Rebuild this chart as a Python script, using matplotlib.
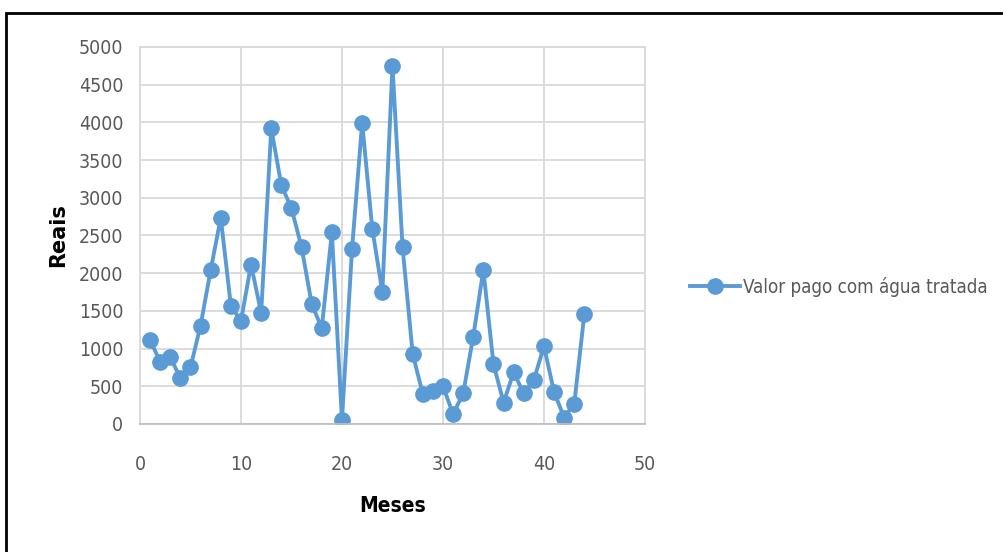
import matplotlib
matplotlib.use("Agg")
import matplotlib.pyplot as plt
from matplotlib.patches import Rectangle

plt.rcParams["font.family"] = ["DejaVu Sans"]
plt.rcParams["font.stretch"] = "condensed"

meses = list(range(1, 45))
valores = [1115, 825, 885, 610, 750, 1305, 2040, 2735, 1570, 1365,
           2115, 1470, 3920, 3165, 2860, 2345, 1595, 1270, 2540, 55,
           2325, 3995, 2590, 1750, 4750, 2345, 930, 400, 440, 505,
           130, 405, 1160, 2045, 795, 285, 685, 405, 585, 1030,
           425, 85, 270, 1460]

AZUL = "#5B9BD5"; CINZA = "#595959"; GRADE = "#D9D9D9"

fig = plt.figure(figsize=(10.04, 5.52), dpi=100)
ax = fig.add_axes([0.1394, 0.2319, 0.5030, 0.6830])

ax.plot(meses, valores, color=AZUL, lw=2.8, marker="o", ms=11,
        label="Valor pago com água tratada")
ax.set_xlim(0, 50); ax.set_ylim(0, 5000)
ax.set_xticks(range(0, 51, 10)); ax.set_yticks(range(0, 5001, 500))
ax.grid(color=GRADE, lw=1.3); ax.set_axisbelow(True)
for s in ax.spines.values():
    s.set_color(GRADE); s.set_linewidth(1.3)
ax.spines["bottom"].set_color("#BFBFBF")
ax.tick_params(length=0, labelsize=14, labelcolor=CINZA)
ax.tick_params(axis="y", pad=12)
ax.tick_params(axis="x", pad=22)

ax.set_xlabel("Meses", fontsize=15, fontweight="bold", labelpad=16)
ax.set_ylabel("Reais", fontsize=15, fontweight="bold", labelpad=8,
              fontstretch="normal")

fig.legend(loc="center left", bbox_to_anchor=(0.670, 0.48), frameon=False,
           fontsize=13.5, labelcolor=CINZA, handlelength=2.7, handletextpad=0.15)

fig.patches.append(Rectangle((0.006, -0.1), 1.2, 1.1 - 13 / 552,
                             transform=fig.transFigure, fill=False,
                             ec="black", lw=2.0))

fig.savefig("out.png", dpi=100)
